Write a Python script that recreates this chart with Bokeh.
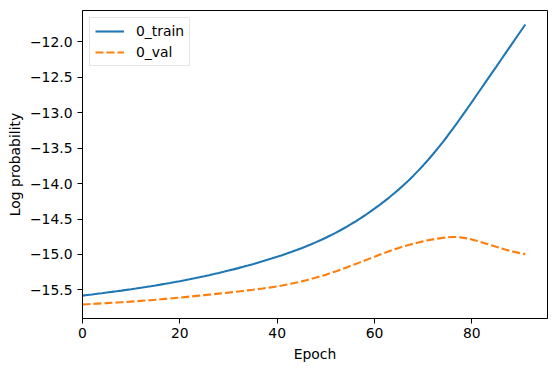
from bokeh.plotting import figure
from bokeh.models import Range1d, FixedTicker, CustomJSTickFormatter, Legend, LegendItem
from bokeh.embed import file_html
from bokeh.resources import INLINE

# ---- data ----
epochs = list(range(92))

train = [
    -15.5800, -15.5715, -15.5629, -15.5542, -15.5454, -15.5365, -15.5275, -15.5183, -15.5089, -15.4993,
    -15.4895, -15.4795, -15.4692, -15.4586, -15.4477, -15.4365, -15.4250, -15.4132, -15.4011, -15.3887,
    -15.3760, -15.3629, -15.3494, -15.3355, -15.3212, -15.3065, -15.2914, -15.2759, -15.2600, -15.2437,
    -15.2270, -15.2098, -15.1921, -15.1739, -15.1552, -15.1360, -15.1163, -15.0961, -15.0753, -15.0539,
    -15.0319, -15.0094, -14.9861, -14.9620, -14.9370, -14.9110, -14.8839, -14.8556, -14.8261, -14.7953,
    -14.7632, -14.7297, -14.6947, -14.6582, -14.6201, -14.5803, -14.5388, -14.4955, -14.4504, -14.4035,
    -14.3548, -14.3043, -14.2519, -14.1975, -14.1409, -14.0819, -14.0203, -13.9559, -13.8885, -13.8180,
    -13.7443, -13.6674, -13.5874, -13.5044, -13.4186, -13.3296, -13.2376, -13.1431, -13.0469, -12.9494,
    -12.8509, -12.7519, -12.6529, -12.5537, -12.4543, -12.3547, -12.2549, -12.1549, -12.0549, -11.9554,
    -11.8564, -11.7579,
]

val = [
    -15.705, -15.701, -15.697, -15.693, -15.689, -15.685, -15.681, -15.677, -15.673, -15.669,
    -15.664, -15.659, -15.654, -15.649, -15.644, -15.638, -15.632, -15.626, -15.620, -15.614,
    -15.608, -15.601, -15.594, -15.587, -15.580, -15.573, -15.566, -15.559, -15.552, -15.545,
    -15.538, -15.530, -15.522, -15.514, -15.506, -15.498, -15.489, -15.480, -15.470, -15.460,
    -15.449, -15.437, -15.424, -15.410, -15.395, -15.379, -15.362, -15.344, -15.325, -15.305,
    -15.284, -15.262, -15.239, -15.215, -15.189, -15.163, -15.137, -15.111, -15.085, -15.058,
    -15.031, -15.005, -14.980, -14.955, -14.930, -14.907, -14.885, -14.866, -14.848, -14.831,
    -14.815, -14.800, -14.787, -14.776, -14.766, -14.758, -14.754, -14.754, -14.762, -14.773,
    -14.788, -14.806, -14.826, -14.848, -14.870, -14.892, -14.913, -14.933, -14.951, -14.967,
    -14.982, -14.995,
]

series_names = ["0_train", "0_val"]
x_ticks = [0, 20, 40, 60, 80]
y_ticks = [-15.5, -15.0, -14.5, -14.0, -13.5, -13.0, -12.5, -12.0]
x_label = "Epoch"
y_label = "Log probability"

# ---- ranges with matplotlib-like 5% margins ----
x_min, x_max = min(epochs), max(epochs)
x_pad = 0.05 * (x_max - x_min)
all_y = train + val
y_min, y_max = min(all_y), max(all_y)
y_pad = 0.05 * (y_max - y_min)

FONT = "DejaVu Sans"
FS = "13.9px"

p = figure(
    width=556, height=371,
    output_backend="svg", toolbar_location=None,
    x_range=Range1d(0, x_max + x_pad),
    y_range=Range1d(y_min - y_pad, y_max + y_pad),
    min_border_left=82, min_border_right=9, min_border_top=10, min_border_bottom=53,
)
p.background_fill_color = "white"
p.border_fill_color = "white"
p.outline_line_color = "black"
p.outline_line_width = 1
p.xgrid.visible = False
p.ygrid.visible = False

r_train = p.line(epochs, train, line_color="#1f77b4", line_width=2.1)
r_val = p.line(epochs, val, line_color="#ff7f0e", line_width=2.1, line_dash="8 3")

for ax in (p.xaxis[0], p.yaxis[0]):
    ax.axis_line_color = "black"
    ax.major_tick_line_color = "black"
    ax.major_tick_out = 5
    ax.major_tick_in = 0
    ax.minor_tick_line_color = None
    ax.major_label_text_font = FONT
    ax.major_label_text_font_size = FS
    ax.major_label_text_color = "black"
    ax.axis_label_text_font = FONT
    ax.axis_label_text_font_size = FS
    ax.axis_label_text_font_style = "normal"
    ax.axis_label_text_color = "black"

p.xaxis.ticker = FixedTicker(ticks=x_ticks)
p.yaxis.ticker = FixedTicker(ticks=y_ticks)
p.yaxis.formatter = CustomJSTickFormatter(code="""
const s = Math.abs(tick).toFixed(1);
return tick < 0 ? "\\u2212" + s : s;
""")
p.xaxis.axis_label = x_label
p.yaxis.axis_label = y_label
p.xaxis.major_label_standoff = 4
p.xaxis.axis_label_standoff = 5
p.yaxis.major_label_standoff = 5
p.yaxis.axis_label_standoff = 4

legend = Legend(
    items=[LegendItem(label=series_names[0], renderers=[r_train]),
           LegendItem(label=series_names[1], renderers=[r_val])],
    location="top_left",
    margin=7, padding=5, spacing=5,
    glyph_width=29, glyph_height=16, label_height=16,
    label_standoff=12,
    label_text_font=FONT, label_text_font_size=FS, label_text_color="black",
    border_line_color="#cccccc", border_line_width=1,
    background_fill_color="white", background_fill_alpha=0.8,
)
p.add_layout(legend, "center")

with open("out.html", "w", encoding="utf-8") as f:
    f.write(file_html(p, INLINE))
